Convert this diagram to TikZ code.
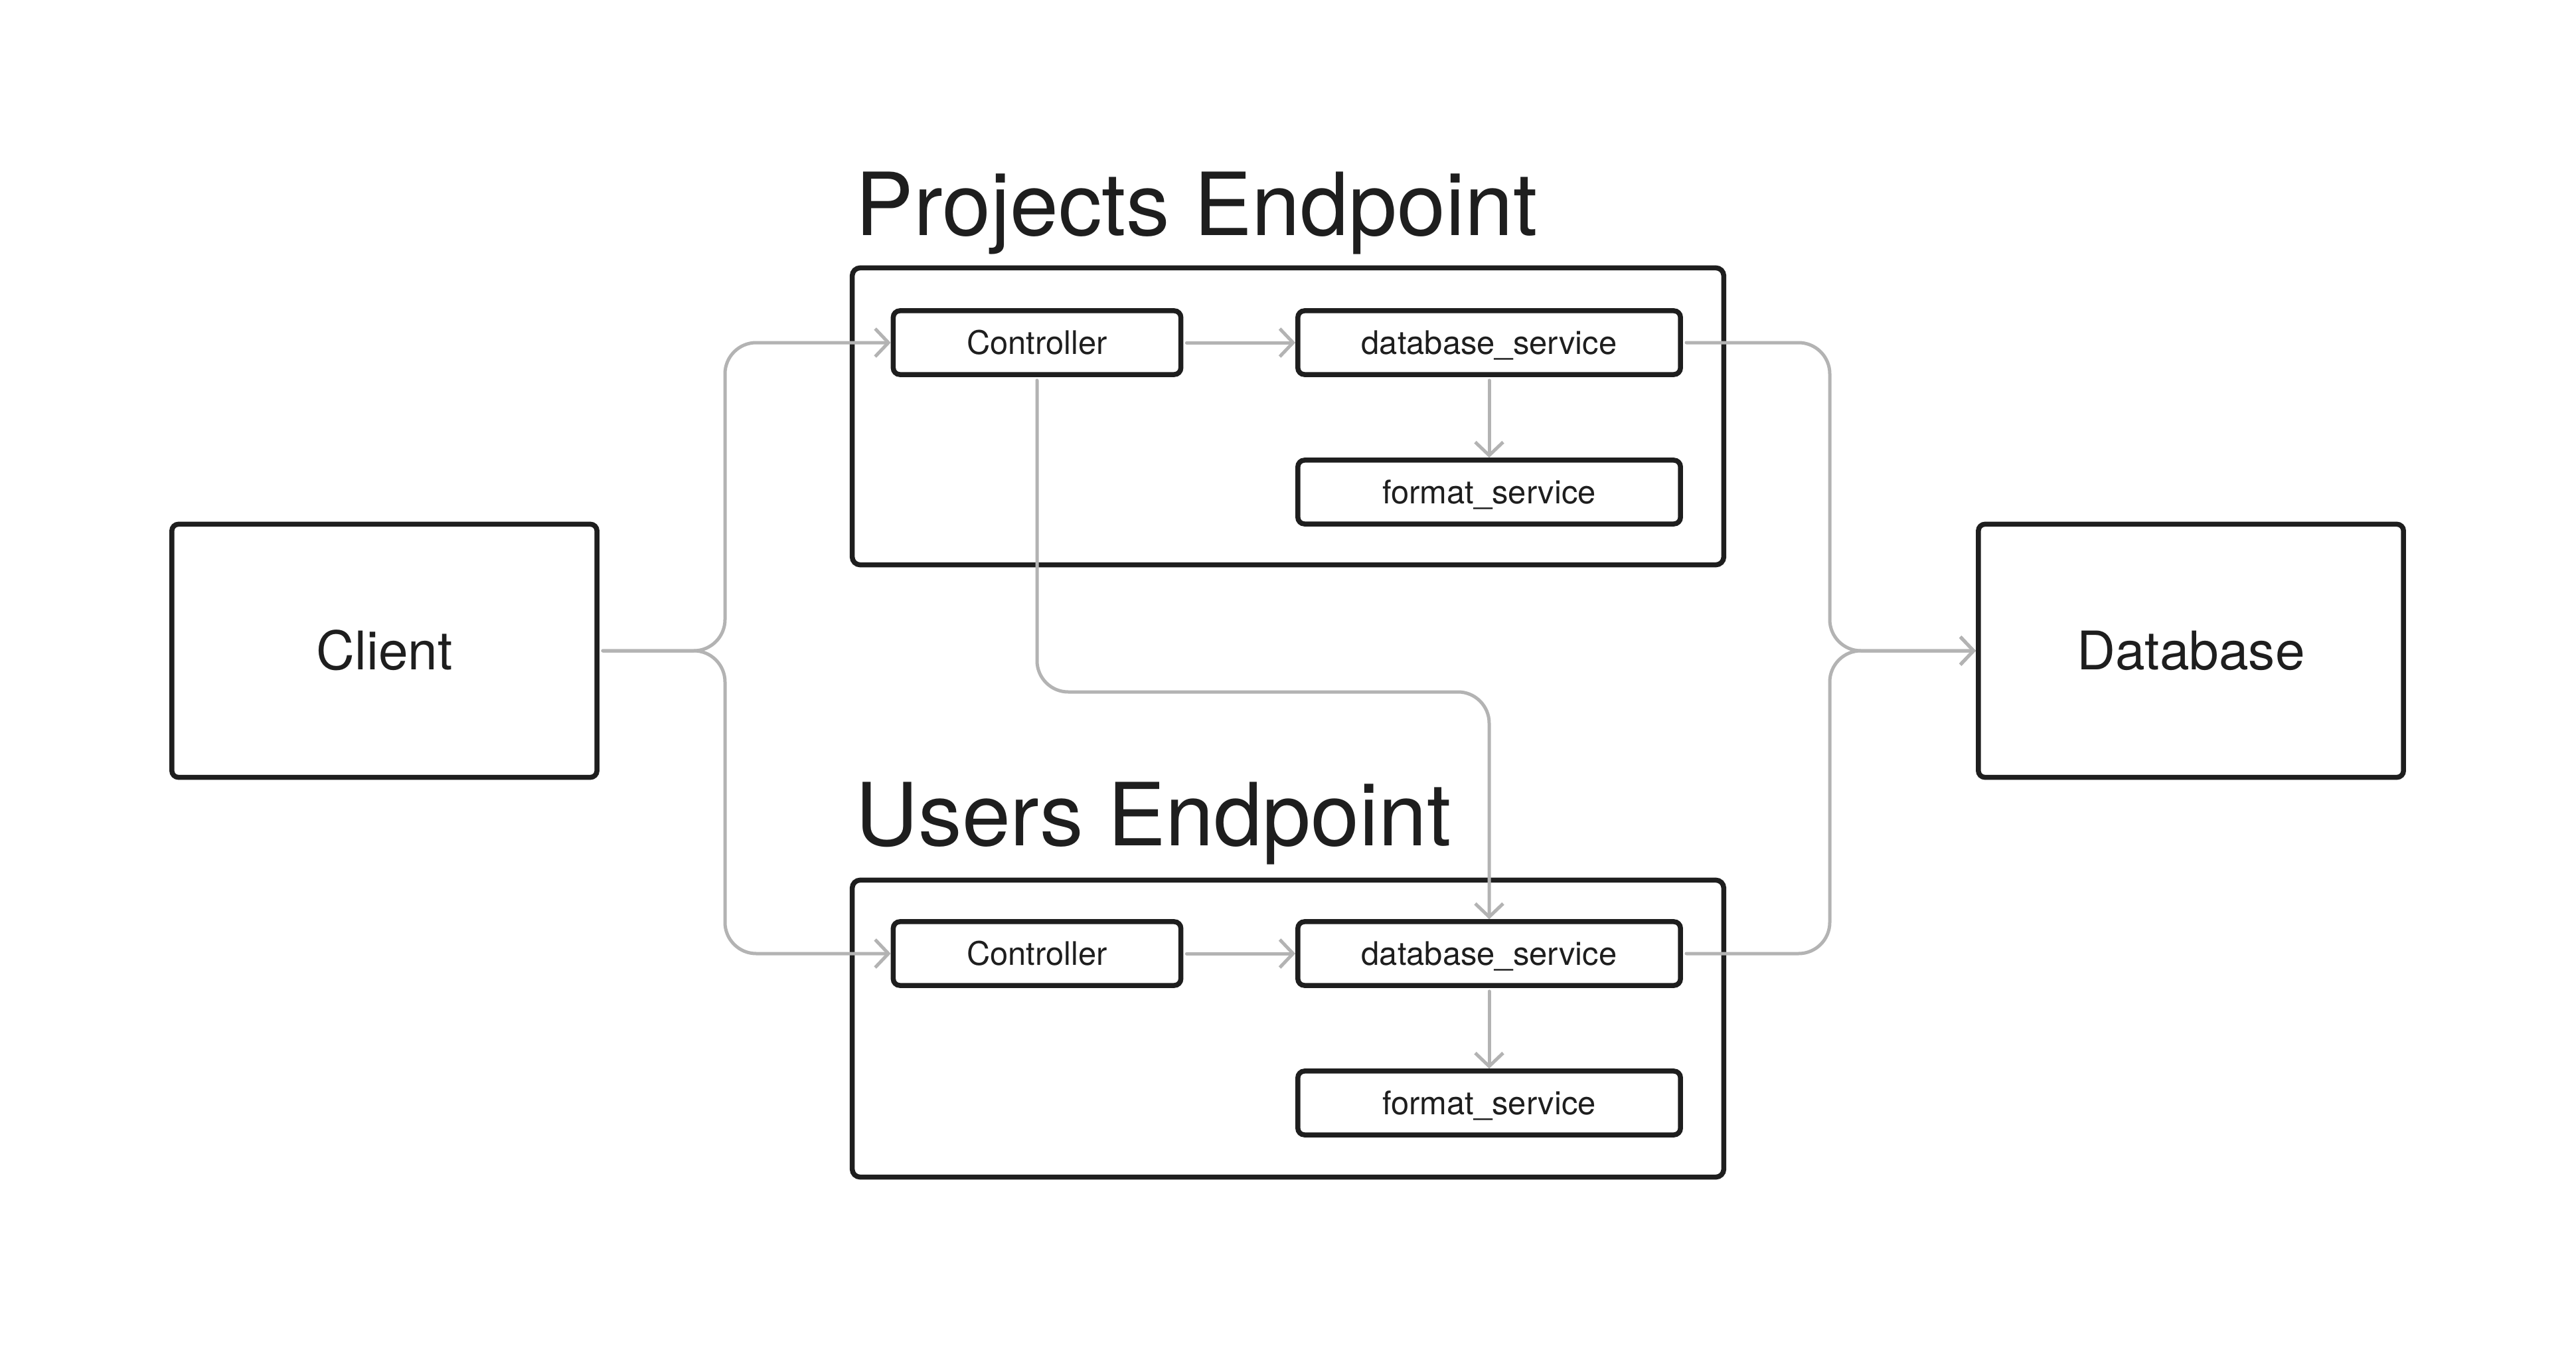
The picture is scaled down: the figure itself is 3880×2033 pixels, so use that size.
\documentclass[tikz,border=0pt]{standalone}
\usepackage{fontspec}
\setmainfont{TeX Gyre Heros}
\usetikzlibrary{arrows.meta}
\definecolor{ink}{HTML}{1E1E1E}
\definecolor{wire}{HTML}{B3B3B3}
\begin{document}
\begin{tikzpicture}[x=0.01cm,y=-0.01cm,
  box/.style={draw=ink, line width=0.075cm, rounded corners=0.1cm, text=ink, inner sep=0pt, text depth=0pt},
  bigbox/.style={box, minimum width=6.4cm, minimum height=3.81cm, text height=16.4pt, font=\fontsize{22.8pt}{26pt}\selectfont},
  framebox/.style={draw=ink, line width=0.075cm, rounded corners=0.12cm, minimum width=13.12cm, minimum height=4.47cm, inner sep=0pt},
  smallbox/.style={box, minimum height=0.96cm, text height=10pt, font=\fontsize{13.9pt}{16pt}\selectfont},
  titletext/.style={anchor=base west, inner sep=0pt, text=ink, font=\fontsize{37.3pt}{42pt}\selectfont},
  wirepath/.style={draw=wire, line width=0.05cm, line cap=round, rounded corners=0.47cm, -{Straight Barb[length=0.2cm,width=0.42cm]}, shorten <=0.05cm}
]
\useasboundingbox[fill=white] (0,0) rectangle (3880,2033);

% frames
\node[framebox] (pframe) at (1940,627) {};
\node[framebox] (uframe) at (1940,1549) {};
\node[titletext] (ptitle) at (1288,354) {Projects Endpoint};
\node[titletext] (utitle) at (1288,1273) {Users Endpoint};

% outer boxes
\node[bigbox] (client) at (579,980) {Client};
\node[bigbox] (database) at (3300,980) {Database};

% projects inner
\node[smallbox, minimum width=4.33cm] (pctrl) at (1562,516) {Controller};
\node[smallbox, minimum width=5.76cm] (pdb) at (2243,516) {database\_service};
\node[smallbox, minimum width=5.76cm] (pfmt) at (2243,741) {format\_service};

% users inner
\node[smallbox, minimum width=4.33cm] (uctrl) at (1562,1436) {Controller};
\node[smallbox, minimum width=5.76cm] (udb) at (2243,1436) {database\_service};
\node[smallbox, minimum width=5.76cm] (ufmt) at (2243,1661) {format\_service};

% junction coordinates
\coordinate (lj) at (1092,980);
\coordinate (rj) at (2756,980);
\coordinate (mid) at (1900,1042);

% connectors
\draw[wirepath] (client.east) -- (lj) |- (pctrl.west);
\draw[wirepath] (client.east) -- (lj) |- (uctrl.west);
\draw[wirepath] (pctrl.east) -- (pdb.west);
\draw[wirepath] (uctrl.east) -- (udb.west);
\draw[wirepath] (pdb.south) -- (pfmt.north);
\draw[wirepath] (udb.south) -- (ufmt.north);
\draw[wirepath] (pctrl.south) |- (mid) -| (udb.north);
\draw[wirepath] (pdb.east) -| (rj) -- (database.west);
\draw[wirepath] (udb.east) -| (rj) -- (database.west);
\end{tikzpicture}
\end{document}
